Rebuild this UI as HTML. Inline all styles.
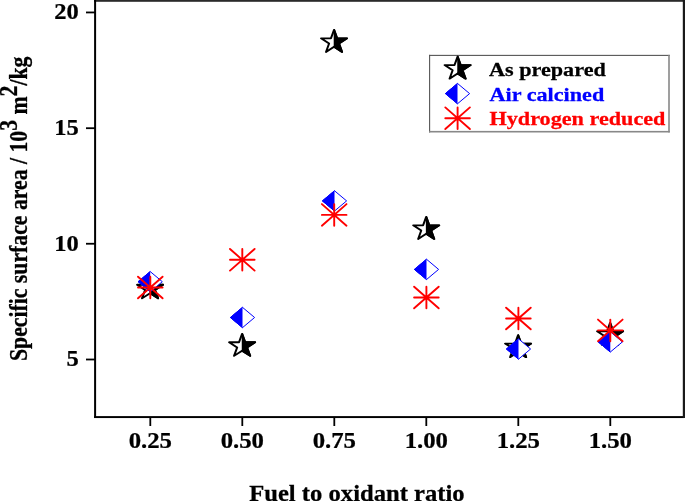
<!DOCTYPE html>
<html><head><meta charset="utf-8"><style>
html,body{margin:0;padding:0;background:#fff;width:685px;height:501px;overflow:hidden;}
svg{display:block;font-family:"Liberation Serif",serif;will-change:transform;}
</style></head><body>
<svg width="685" height="501" viewBox="0 0 685 501">
<defs>
<clipPath id="rh"><rect x="-0.3" y="-30" width="30" height="60"/></clipPath>
<clipPath id="lh"><rect x="-30" y="-30" width="30" height="60"/></clipPath>
<g id="dia"><path d="M0,-10.15 L12.10,0 L0,10.15 L-12.10,0 Z" fill="#fff" stroke="#00f" stroke-width="1.00"/><path d="M0,-10.15 L12.10,0 L0,10.15 L-12.10,0 Z" fill="#00f" stroke="#00f" stroke-width="1.00" clip-path="url(#lh)"/></g>
<g id="star"><path d="M0.000,-12.200 L2.739,-3.770 L11.603,-3.770 L4.432,1.440 L7.171,9.870 L0.000,4.660 L-7.171,9.870 L-4.432,1.440 L-11.603,-3.770 L-2.739,-3.770 Z" fill="#fff" stroke="#000" stroke-width="1.80" stroke-linejoin="round"/><path d="M0.000,-12.200 L2.739,-3.770 L11.603,-3.770 L4.432,1.440 L7.171,9.870 L0.000,4.660 L-7.171,9.870 L-4.432,1.440 L-11.603,-3.770 L-2.739,-3.770 Z" fill="#000" stroke="#000" stroke-width="1.80" stroke-linejoin="round" clip-path="url(#rh)"/></g>
</defs>
<rect width="685" height="501" fill="#fff"/>
<rect x="94" y="0" width="591" height="1.8" fill="#2a2a2a"/>
<rect x="94.1" y="0" width="2" height="418" fill="#000"/>
<rect x="94.1" y="416.1" width="590" height="1.95" fill="#000"/>
<rect x="682.8" y="0" width="2.2" height="418" fill="#1a1a1a"/>
<path d="M86,12.45 H95" stroke="#000" stroke-width="1.8"/>
<text transform="translate(78.80,19.25) scale(1.065,1)" font-family="Liberation Serif" font-weight="bold" font-size="23.00" text-anchor="end" fill="#000" stroke="#000" stroke-width="0.25">20</text>
<path d="M86,128.20 H95" stroke="#000" stroke-width="1.8"/>
<text transform="translate(78.80,135.00) scale(1.065,1)" font-family="Liberation Serif" font-weight="bold" font-size="23.00" text-anchor="end" fill="#000" stroke="#000" stroke-width="0.25">15</text>
<path d="M86,243.75 H95" stroke="#000" stroke-width="1.8"/>
<text transform="translate(78.80,250.55) scale(1.065,1)" font-family="Liberation Serif" font-weight="bold" font-size="23.00" text-anchor="end" fill="#000" stroke="#000" stroke-width="0.25">10</text>
<path d="M86,359.50 H95" stroke="#000" stroke-width="1.8"/>
<text transform="translate(78.80,366.30) scale(1.065,1)" font-family="Liberation Serif" font-weight="bold" font-size="23.00" text-anchor="end" fill="#000" stroke="#000" stroke-width="0.25">5</text>
<path d="M150.30,417 V426" stroke="#000" stroke-width="1.8"/>
<text transform="translate(150.30,448.30) scale(1.100,1)" font-family="Liberation Serif" font-weight="bold" font-size="22.50" text-anchor="middle" fill="#000" stroke="#000" stroke-width="0.25">0.25</text>
<path d="M242.30,417 V426" stroke="#000" stroke-width="1.8"/>
<text transform="translate(242.30,448.30) scale(1.100,1)" font-family="Liberation Serif" font-weight="bold" font-size="22.50" text-anchor="middle" fill="#000" stroke="#000" stroke-width="0.25">0.50</text>
<path d="M334.30,417 V426" stroke="#000" stroke-width="1.8"/>
<text transform="translate(334.30,448.30) scale(1.100,1)" font-family="Liberation Serif" font-weight="bold" font-size="22.50" text-anchor="middle" fill="#000" stroke="#000" stroke-width="0.25">0.75</text>
<path d="M426.30,417 V426" stroke="#000" stroke-width="1.8"/>
<text transform="translate(426.30,448.30) scale(1.100,1)" font-family="Liberation Serif" font-weight="bold" font-size="22.50" text-anchor="middle" fill="#000" stroke="#000" stroke-width="0.25">1.00</text>
<path d="M518.30,417 V426" stroke="#000" stroke-width="1.8"/>
<text transform="translate(518.30,448.30) scale(1.100,1)" font-family="Liberation Serif" font-weight="bold" font-size="22.50" text-anchor="middle" fill="#000" stroke="#000" stroke-width="0.25">1.25</text>
<path d="M610.30,417 V426" stroke="#000" stroke-width="1.8"/>
<text transform="translate(610.30,448.30) scale(1.100,1)" font-family="Liberation Serif" font-weight="bold" font-size="22.50" text-anchor="middle" fill="#000" stroke="#000" stroke-width="0.25">1.50</text>
<text transform="translate(249.20,501.00) scale(1.105,1)" font-family="Liberation Serif" font-weight="bold" font-size="22.30" text-anchor="start" fill="#000" stroke="#000" stroke-width="0.25">Fuel to oxidant ratio</text>
<text transform="translate(27.0,361.0) scale(1.15,1) rotate(-90)" font-family="Liberation Serif" font-weight="bold" font-size="21.75" stroke="#000" stroke-width="0.25">Specific surface area / 10<tspan dy="-9.00">3</tspan><tspan dy="9.00"> m</tspan><tspan dy="-9.00">2</tspan><tspan dy="9.00">/kg</tspan></text>
<use href="#star" transform="translate(150.05,288.50) scale(1.120,1)"/>
<use href="#dia" transform="translate(150.20,281.70)"/>
<path d="M138.00,287.50 L162.60,287.50 M150.30,276.70 L150.30,298.30 M138.00,276.70 L162.60,298.30 M138.00,298.30 L162.60,276.70" stroke="#f00" stroke-width="1.90" stroke-linecap="round" fill="none"/>
<use href="#star" transform="translate(242.10,346.00) scale(1.120,1)"/>
<use href="#dia" transform="translate(242.50,317.50)"/>
<path d="M230.00,259.80 L254.60,259.80 M242.30,249.00 L242.30,270.60 M230.00,249.00 L254.60,270.60 M230.00,270.60 L254.60,249.00" stroke="#f00" stroke-width="1.90" stroke-linecap="round" fill="none"/>
<use href="#star" transform="translate(334.05,42.10) scale(1.120,1)"/>
<use href="#dia" transform="translate(334.50,200.90)"/>
<path d="M321.90,214.90 L346.50,214.90 M334.20,204.10 L334.20,225.70 M321.90,204.10 L346.50,225.70 M321.90,225.70 L346.50,204.10" stroke="#f00" stroke-width="1.90" stroke-linecap="round" fill="none"/>
<use href="#star" transform="translate(426.20,229.10) scale(1.120,1)"/>
<use href="#dia" transform="translate(426.50,269.40)"/>
<path d="M414.10,297.50 L438.70,297.50 M426.40,286.70 L426.40,308.30 M414.10,286.70 L438.70,308.30 M414.10,308.30 L438.70,286.70" stroke="#f00" stroke-width="1.90" stroke-linecap="round" fill="none"/>
<use href="#star" transform="translate(518.10,347.30) scale(1.120,1)"/>
<use href="#dia" transform="translate(518.50,349.00)"/>
<path d="M506.10,318.50 L530.70,318.50 M518.40,307.70 L518.40,329.30 M506.10,307.70 L530.70,329.30 M506.10,329.30 L530.70,307.70" stroke="#f00" stroke-width="1.90" stroke-linecap="round" fill="none"/>
<use href="#star" transform="translate(610.10,335.00) scale(1.120,1)"/>
<use href="#dia" transform="translate(610.30,341.90)"/>
<path d="M598.00,330.40 L622.60,330.40 M610.30,319.60 L610.30,341.20 M598.00,319.60 L622.60,341.20 M598.00,341.20 L622.60,319.60" stroke="#f00" stroke-width="1.90" stroke-linecap="round" fill="none"/>
<rect x="429.6" y="55.4" width="239.3" height="76.2" fill="#fff"/>
<rect x="429.05" y="54.85" width="1.1" height="77.6" fill="#555"/>
<rect x="429.05" y="54.85" width="240.8" height="1.1" fill="#555"/>
<rect x="668.2" y="54.85" width="1.6" height="77.6" fill="#888"/>
<rect x="429.05" y="130.9" width="240.75" height="1.6" fill="#888"/>
<use href="#star" transform="translate(457.60,68.80) scale(1.120,1)"/>
<use href="#dia" transform="translate(457.50,93.60)"/>
<path d="M445.30,118.20 L469.90,118.20 M457.60,107.40 L457.60,129.00 M445.30,107.40 L469.90,129.00 M445.30,129.00 L469.90,107.40" stroke="#f00" stroke-width="1.90" stroke-linecap="round" fill="none"/>
<text transform="translate(489.00,75.70) scale(1.155,1)" font-family="Liberation Serif" font-weight="bold" font-size="19.20" text-anchor="start" fill="#000" stroke="#000" stroke-width="0.25">As prepared</text>
<text transform="translate(489.50,100.60) scale(1.155,1)" font-family="Liberation Serif" font-weight="bold" font-size="19.20" text-anchor="start" fill="#00f" stroke="#00f" stroke-width="0.25">Air calcined</text>
<text transform="translate(489.50,125.00) scale(1.155,1)" font-family="Liberation Serif" font-weight="bold" font-size="19.20" text-anchor="start" fill="#f00" stroke="#f00" stroke-width="0.25">Hydrogen reduced</text>
</svg>
</body></html>
